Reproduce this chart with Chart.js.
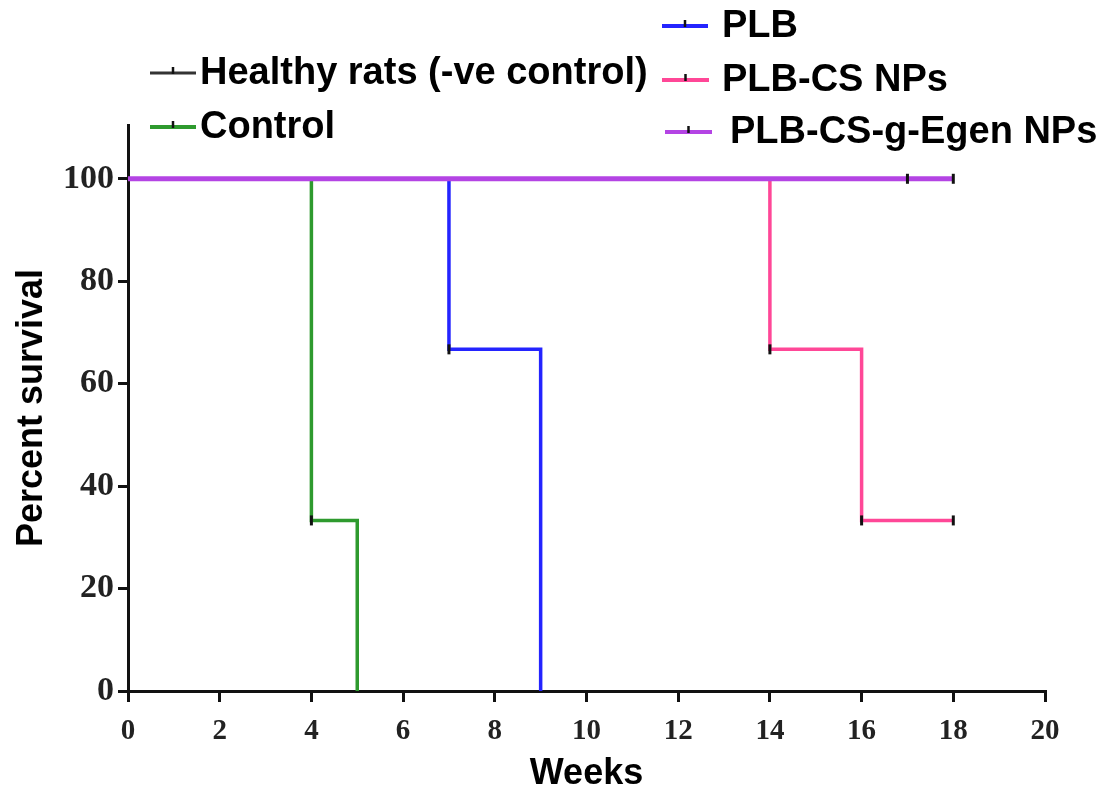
<!DOCTYPE html>
<html>
<head>
<meta charset="utf-8">
<script src="https://cdn.jsdelivr.net/npm/chart.js@4"></script>
<style>
  html, body { margin: 0; padding: 0; background: #fff; }
  #wrap { width: 1105px; height: 796px; }
</style>
</head>
<body>
<div id="wrap"><canvas id="survivalChart"></canvas></div>
<script>
// Kaplan-Meier curves (weeks / percent survival)
const seriesNames = ["Healthy rats (-ve control)", "Control", "PLB", "PLB-CS NPs", "PLB-CS-g-Egen NPs"];

const healthyWeeks = [0, 18];
const healthySurv = [100, 100];

const controlWeeks = [0, 4, 5];
const controlSurv = [100, 33.3, 0];

const plbWeeks = [0, 7, 9];
const plbSurv = [100, 66.7, 0];

const plbCsWeeks = [0, 14, 16, 18];
const plbCsSurv = [100, 66.7, 33.3, 33.3];

const egenWeeks = [0, 18];
const egenSurv = [100, 100];

// small black tick marks on the curves
const censorWeeks = [4, 7, 14, 16, 18, 17, 18];
const censorSurv = [33.3, 66.7, 66.7, 33.3, 33.3, 100, 100];

const xTicks = [0, 2, 4, 6, 8, 10, 12, 14, 16, 18, 20];
const yTicks = [0, 20, 40, 60, 80, 100];

const colors = ["#333333", "#2e9a2e", "#2424ff", "#ff4797", "#b444e4"];

function toPoints(xs, ys) {
    return xs.map((x, i) => ({ x: x, y: ys[i] }));
}

const curves = [
    toPoints(healthyWeeks, healthySurv),
    toPoints(controlWeeks, controlSurv),
    toPoints(plbWeeks, plbSurv),
    toPoints(plbCsWeeks, plbCsSurv),
    toPoints(egenWeeks, egenSurv)
];
const widths = [3, 3.5, 3.5, 3.5, 5];

const datasets = curves.map((pts, i) => ({
    label: seriesNames[i],
    data: pts,
    borderColor: colors[i],
    backgroundColor: colors[i],
    borderWidth: widths[i],
    stepped: true,   // horizontal first, then drop
    pointRadius: 0,
    fill: false,
    order: 5 - i     // purple ends up on top of the 100% line
}));

datasets.push({
    label: "censored",
    data: toPoints(censorWeeks, censorSurv),
    showLine: false,
    pointStyle: "line",
    rotation: 90,
    pointRadius: 5,
    borderWidth: 3,
    borderColor: "#111",
    backgroundColor: "#111",
    order: -1
});

// legend drawn by hand, two columns like the original
const legendSpots = [
    { x: 150, y: 73, len: 46, tx: 200 },
    { x: 150, y: 127, len: 46, tx: 200 },
    { x: 662, y: 26, len: 46, tx: 722 },
    { x: 662, y: 80, len: 47, tx: 722 },
    { x: 665, y: 132, len: 47, tx: 730 }
];

const legendPlugin = {
    id: "handLegend",
    afterDraw(chart) {
        const ctx = chart.ctx;
        ctx.save();
        legendSpots.forEach((s, i) => {
            ctx.strokeStyle = colors[i];
            ctx.lineWidth = i === 0 ? 3 : 4;
            ctx.beginPath();
            ctx.moveTo(s.x, s.y);
            ctx.lineTo(s.x + s.len, s.y);
            ctx.stroke();
            ctx.strokeStyle = "#111";
            ctx.lineWidth = 2.5;
            ctx.beginPath();
            ctx.moveTo(s.x + s.len / 2, s.y - 6);
            ctx.lineTo(s.x + s.len / 2, s.y + 1);
            ctx.stroke();
            ctx.fillStyle = "#000";
            ctx.font = "bold 38px 'Liberation Sans', Arial, sans-serif";
            ctx.textBaseline = "middle";
            ctx.fillText(seriesNames[i], s.tx, s.y + 1);
        });
        ctx.restore();
    }
};

const ctx = document.getElementById("survivalChart").getContext("2d");

new Chart(ctx, {
    type: "line",
    data: { datasets: datasets },
    options: {
        responsive: true,
        maintainAspectRatio: false,
        animation: false,
        layout: { padding: { top: 125, right: 60, left: 0, bottom: 0 } },
        plugins: {
            legend: { display: false },
            tooltip: { enabled: false }
        },
        scales: {
            x: {
                type: "linear",
                min: 0,
                max: 20,
                afterBuildTicks: (scale) => { scale.ticks = xTicks.map(v => ({ value: v })); },
                afterFit: (scale) => { scale.height = 105; },
                border: { display: true, color: "#111", width: 3 },
                grid: { drawOnChartArea: false, color: "#111", lineWidth: 3, tickLength: 11 },
                ticks: {
                    color: "#222",
                    padding: 12,
                    maxRotation: 0,
                    font: { family: "'Liberation Serif', 'Times New Roman', serif", weight: "bold", size: 29 }
                },
                title: {
                    display: true,
                    text: "Weeks",
                    color: "#000",
                    padding: { top: 4, bottom: 0 },
                    font: { family: "'Liberation Sans', Arial, sans-serif", weight: "bold", size: 36 }
                }
            },
            y: {
                min: 0,
                max: 110.5,
                afterBuildTicks: (scale) => { scale.ticks = yTicks.map(v => ({ value: v })); },
                afterFit: (scale) => { scale.width = 128; },
                border: { display: true, color: "#111", width: 3 },
                grid: { drawOnChartArea: false, color: "#111", lineWidth: 3, tickLength: 10 },
                ticks: {
                    color: "#222",
                    padding: 4,
                    font: { family: "'Liberation Serif', 'Times New Roman', serif", weight: "bold", size: 34 }
                },
                title: {
                    display: true,
                    text: "Percent survival",
                    color: "#000",
                    padding: { top: 10, bottom: 0 },
                    font: { family: "'Liberation Sans', Arial, sans-serif", weight: "bold", size: 36 }
                }
            }
        }
    },
    plugins: [legendPlugin]
});
</script>
</body>
</html>
